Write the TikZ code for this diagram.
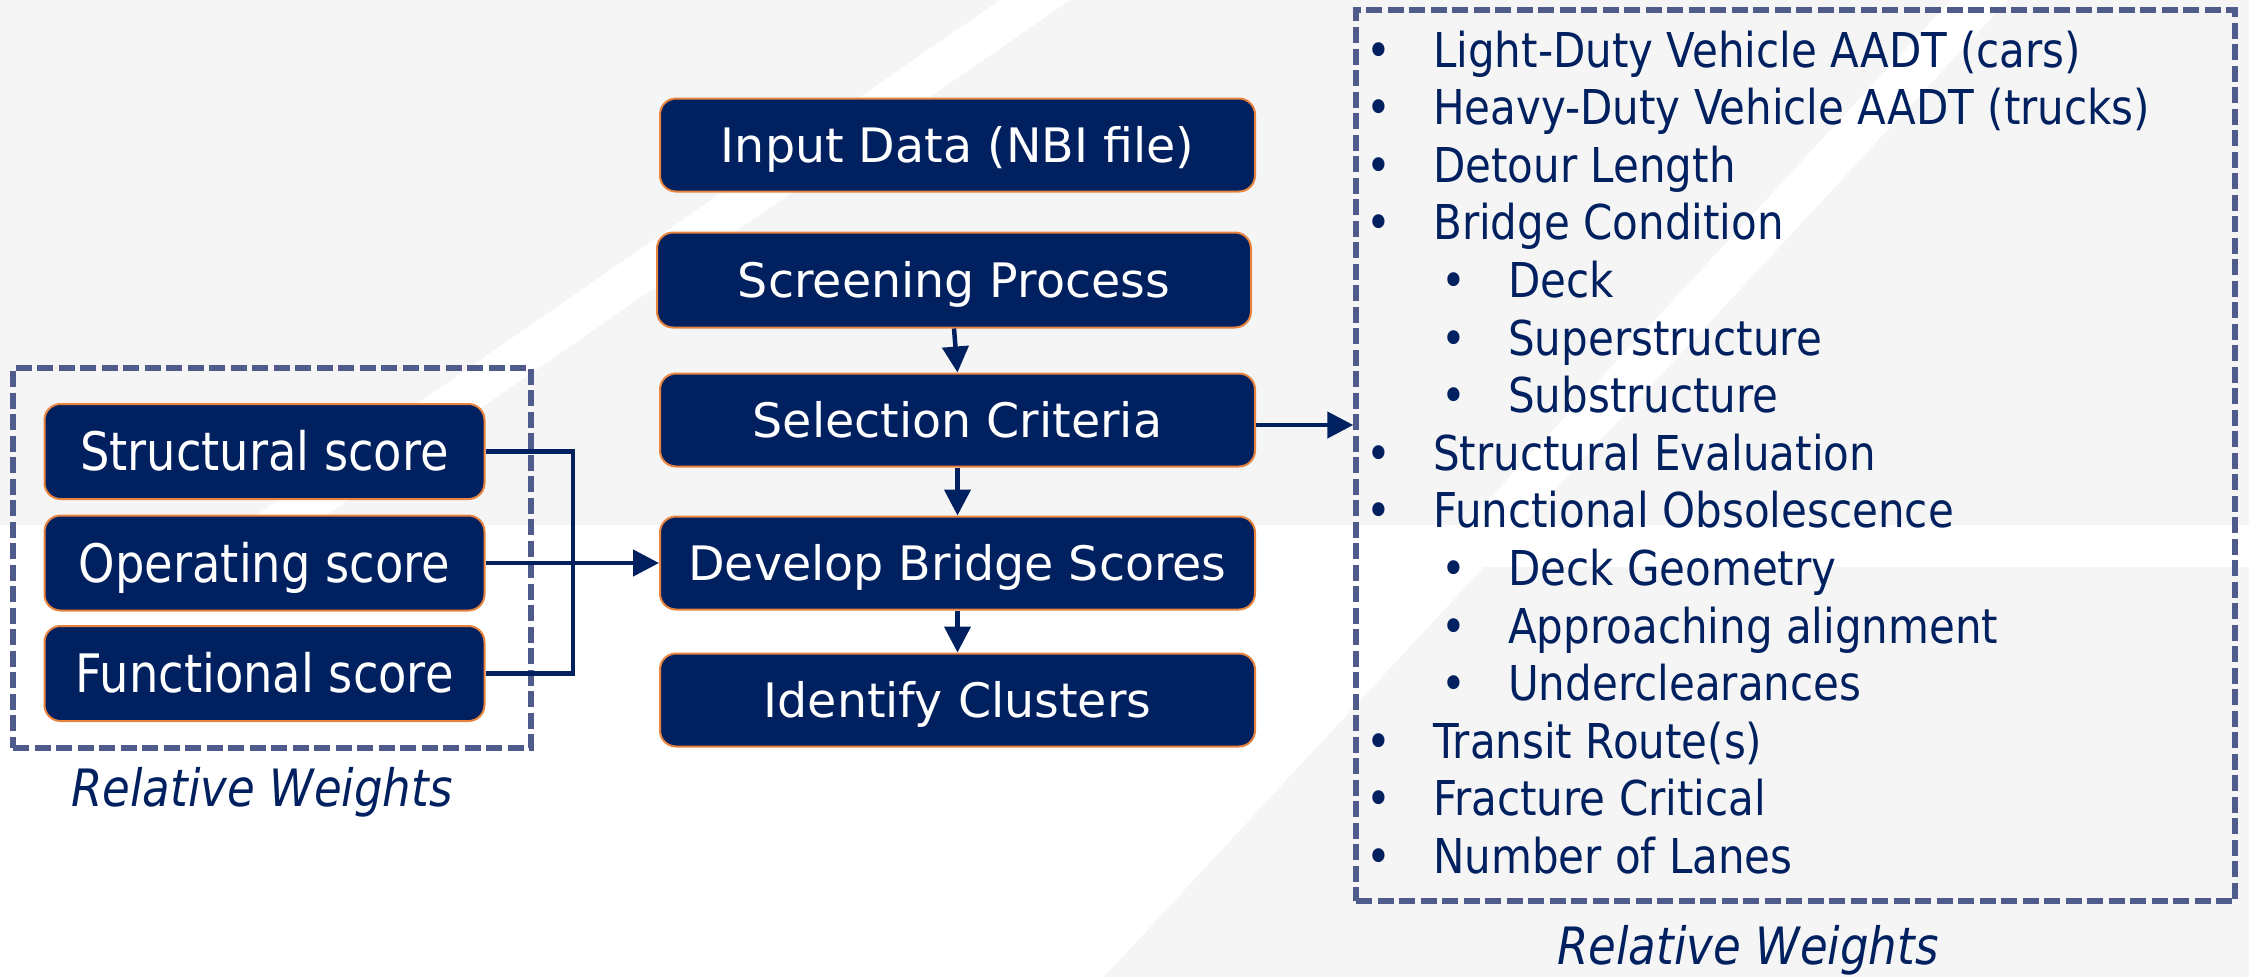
\documentclass[tikz,border=0pt]{standalone}
\usepackage{fontspec}
\setmainfont{DejaVu Sans}
\newfontfamily\condfont[FakeStretch=0.875]{DejaVu Sans}
\usetikzlibrary{arrows.meta}
\definecolor{navy}{HTML}{002060}
\definecolor{bggrey}{HTML}{F5F5F5}
\definecolor{dashcol}{HTML}{4F5B8A}
\definecolor{edgeorange}{HTML}{E9843E}
\begin{document}
\begin{tikzpicture}[x=1pt,y=-1pt,
  proc/.style={draw=edgeorange, line width=2pt, fill=navy, rounded corners=16pt,
    text=white, inner sep=0pt, minimum width=595pt, minimum height=93pt,
    font=\fontsize{47.5}{57}\selectfont, text height=34.6pt, text depth=0pt},
  score/.style={draw=edgeorange, line width=2pt, fill=navy, rounded corners=16pt,
    text=white, inner sep=0pt, minimum width=440pt, minimum height=95pt,
    font=\condfont\fontsize{53}{63}\selectfont, text height=38.6pt, text depth=0pt},
  dashbox/.style={draw=dashcol, line width=5.5pt, dash pattern=on 16pt off 5.5pt, inner sep=0pt},
  conn/.style={draw=navy, line width=4.5pt},
  arr/.style={draw=navy, line width=4.5pt, -{Triangle[length=26pt,width=26pt]}},
  item/.style={inner sep=0pt, text=navy, font=\condfont\fontsize{48}{57.6}\selectfont},
  rw/.style={inner sep=0pt, text=navy, font=\condfont\itshape\fontsize{51.5}{62}\selectfont}
]
\path[use as bounding box] (0,0) rectangle (2249,977);
% background
\fill[bggrey] (0,0) rectangle (2249,977);
\fill[white] (0,525) rectangle (2249,977);
\fill[bggrey] (1484,567) -- (2249,567) -- (2249,977) -- (1104,977) -- cycle;
\fill[white] (1000,0) -- (1070,0) -- (312,525) -- (242,525) -- cycle;
\fill[white] (1951,0) -- (2008,0) -- (1522,525) -- (1465,525) -- cycle;

% dashed groups
\node[dashbox, minimum width=518pt, minimum height=380pt] (lbox) at (272,558) {};
\node[dashbox, minimum width=879pt, minimum height=891pt] (rbox) at (1795.5,455.5) {};

% process boxes
\node[proc] (inp) at (957.5,145) {Input Data (NBI file)};
\node[proc, minimum width=594pt, minimum height=95pt] (scr) at (954,280) {Screening Process};
\node[proc] (sel) at (957.5,420) {Selection Criteria};
\node[proc] (dev) at (957.5,563) {Develop Bridge Scores};
\node[proc] (idc) at (957.5,700) {Identify Clusters};

% score boxes
\node[score] (str) at (264.5,451.5) {Structural score};
\node[score] (ope) at (264.5,563) {Operating score};
\node[score] (fun) at (264.5,673.5) {Functional score};

% connectors
\coordinate (jn) at (573,563);
\draw[conn] (str.east) -| (jn) |- (fun.east);
\draw[arr] (ope.east) -- (dev.west);
\draw[arr] (scr.south) -- (sel.north);
\draw[arr] (sel.south) -- (dev.north);
\draw[arr] (dev.south) -- (idc.north);
\draw[arr] ([yshift=-5pt]sel.east) -- ([yshift=-5pt]sel.east -| rbox.west);

% criteria list
\foreach \i/\lv/\t in {0/1/Light-Duty Vehicle AADT (cars),
  1/1/Heavy-Duty Vehicle AADT (trucks),
  2/1/Detour Length,
  3/1/Bridge Condition,
  4/2/Deck,
  5/2/Superstructure,
  6/2/Substructure,
  7/1/Structural Evaluation,
  8/1/Functional Obsolescence,
  9/2/Deck Geometry,
  10/2/Approaching alignment,
  11/2/Underclearances,
  12/1/Transit Route(s),
  13/1/Fracture Critical,
  14/1/Number of Lanes}{
  \pgfmathsetmacro\yy{67+57.6*\i}
  \pgfmathsetmacro\bx{1379+75*(\lv-1)}
  \pgfmathsetmacro\tx{1433+75*(\lv-1)}
  \node[item, anchor=base] (b\i) at (\bx,\yy) {•};
  \node[item, anchor=base west] (l\i) at (\tx,\yy) {\t};
}

% labels
\node[rw, anchor=base] (rwl) at (262,806) {Relative Weights};
\node[rw, anchor=base] (rwr) at (1748,964) {Relative Weights};
\end{tikzpicture}
\end{document}
